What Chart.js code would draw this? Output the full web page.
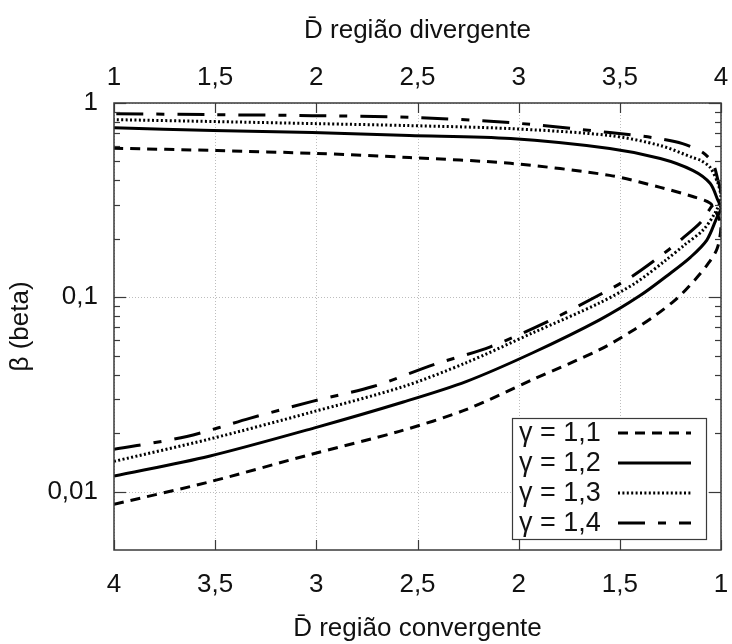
<!DOCTYPE html>
<html lang="pt">
<head>
<meta charset="utf-8">
<title>β em função de D̄</title>
<script src="https://cdn.jsdelivr.net/npm/chart.js@4.4.1/dist/chart.umd.min.js"></script>
<style>
  html, body { margin: 0; padding: 0; background: #fff; }
</style>
</head>
<body>
<canvas id="betaChart" width="732" height="644"></canvas>
<script>
const gammaLabels = ["γ = 1,1", "γ = 1,2", "γ = 1,3", "γ = 1,4"];

// each curve: lower branch from D = 4 up to the throat, then the upper branch back to D = 4
const dBar11 = [4.0, 3.53, 3.03, 2.59, 2.26, 1.93, 1.60, 1.44, 1.32, 1.24, 1.19, 1.12, 1.07, 1.02, 1.0, 1.015, 1.054, 1.14, 1.30, 1.55, 2.04, 2.54, 3.0, 3.49, 4.0];
const beta11 = [0.0086, 0.0112, 0.0155, 0.0204, 0.0264, 0.0377, 0.0537, 0.067, 0.0813, 0.0942, 0.105, 0.126, 0.146, 0.177, 0.232, 0.262, 0.305, 0.330, 0.368, 0.424, 0.489, 0.524, 0.550, 0.569, 0.585];

const dBar12 = [4.0, 3.53, 3.0, 2.57, 2.26, 1.93, 1.60, 1.40, 1.25, 1.15, 1.07, 1.02, 1.0, 1.015, 1.054, 1.14, 1.30, 1.55, 2.04, 2.54, 3.02, 3.51, 4.0];
const beta12 = [0.0120, 0.0152, 0.0214, 0.0289, 0.0368, 0.0518, 0.0765, 0.102, 0.133, 0.161, 0.197, 0.258, 0.287, 0.315, 0.386, 0.450, 0.518, 0.583, 0.656, 0.680, 0.704, 0.721, 0.745];

const dBar13 = [4.0, 3.53, 3.03, 2.57, 2.26, 1.93, 1.60, 1.42, 1.27, 1.18, 1.09, 1.03, 1.0, 1.015, 1.054, 1.10, 1.14, 1.30, 1.55, 2.04, 2.54, 3.0, 3.49, 4.0];
const beta13 = [0.0143, 0.0186, 0.0255, 0.0347, 0.0460, 0.0656, 0.0935, 0.119, 0.156, 0.186, 0.221, 0.271, 0.325, 0.386, 0.466, 0.506, 0.524, 0.604, 0.680, 0.738, 0.765, 0.783, 0.802, 0.821];

const dBar14 = [4.0, 3.64, 3.33, 3.02, 2.72, 2.42, 2.14, 1.86, 1.60, 1.44, 1.27, 1.19, 1.10, 1.05, 1.0, 1.015, 1.04, 1.09, 1.19, 1.34, 1.55, 2.04, 2.54, 3.02, 3.51, 4.0];
const beta14 = [0.0165, 0.0192, 0.0238, 0.0291, 0.0347, 0.0450, 0.0556, 0.0747, 0.103, 0.128, 0.172, 0.201, 0.243, 0.290, 0.343, 0.400, 0.489, 0.556, 0.618, 0.664, 0.704, 0.792, 0.844, 0.861, 0.871, 0.881];

const xTicks = [1, 1.5, 2, 2.5, 3, 3.5, 4];
const yTicks = [0.01, 0.1, 1];
const yTickText = ["0,01", "0,1", "1"];

const dashes = [[10, 7], [], [2, 2.4], [27, 13, 8, 13]];
const FONT = "'Liberation Sans', Arial, sans-serif";
const INK = "#111";
const FRAME = "#3a3a3a";

function toPoints(xs, ys) {
  return xs.map((x, i) => ({ x: x, y: ys[i] }));
}

function commaNum(v) {
  return String(v).replace(".", ",");
}

function line(ctx, x1, y1, x2, y2) {
  ctx.beginPath();
  ctx.moveTo(x1, y1);
  ctx.lineTo(x2, y2);
  ctx.stroke();
}

// dotted grid, inward tick marks, frame and the boxed legend
const frameAndLegend = {
  id: "frameAndLegend",
  beforeDatasetsDraw(chart) {
    const { ctx, chartArea: a, scales } = chart;
    ctx.save();
    ctx.strokeStyle = "#bdbdbd";
    ctx.lineWidth = 1;
    ctx.setLineDash([1, 2]);
    xTicks.forEach((v) => {
      const px = Math.round(scales.x.getPixelForValue(v)) + 0.5;
      line(ctx, px, a.top, px, a.bottom);
    });
    yTicks.forEach((v) => {
      const py = Math.round(scales.y.getPixelForValue(v)) + 0.5;
      line(ctx, a.left, py, a.right, py);
    });
    ctx.restore();
  },
  afterDatasetsDraw(chart) {
    const { ctx, chartArea: a, scales } = chart;
    ctx.save();
    ctx.strokeStyle = FRAME;
    ctx.lineWidth = 1.2;
    ctx.setLineDash([]);

    xTicks.forEach((v) => {
      const px = Math.round(scales.x.getPixelForValue(v)) + 0.5;
      line(ctx, px, a.bottom, px, a.bottom - 10);
      const pt = Math.round(scales.x2.getPixelForValue(v)) + 0.5;
      line(ctx, pt, a.top, pt, a.top + 10);
    });

    yTicks.forEach((decade) => {
      const py = Math.round(scales.y.getPixelForValue(decade)) + 0.5;
      line(ctx, a.left, py, a.left + 12, py);
      line(ctx, a.right, py, a.right - 12, py);
      if (decade >= 1) return;
      for (let k = 2; k <= 9; k++) {
        const pm = Math.round(scales.y.getPixelForValue(k * decade)) + 0.5;
        line(ctx, a.left, pm, a.left + 6, pm);
        line(ctx, a.right, pm, a.right - 6, pm);
      }
    });

    ctx.lineWidth = 1.5;
    ctx.strokeRect(a.left, a.top, a.right - a.left, a.bottom - a.top);

    // legend box in the lower right corner
    const bw = 194, bh = 121;
    const bx = a.right - 15 - bw;
    const by = a.bottom - 11 - bh;
    ctx.fillStyle = "#fff";
    ctx.fillRect(bx, by, bw, bh);
    ctx.lineWidth = 1.2;
    ctx.strokeRect(bx + 0.5, by + 0.5, bw, bh);

    ctx.font = "27px " + FONT;
    ctx.textBaseline = "middle";
    ctx.textAlign = "left";
    chart.data.datasets.forEach((ds, i) => {
      const cy = by + 15 + i * 30;
      ctx.fillStyle = INK;
      ctx.fillText(ds.label, bx + 7, cy + 1);
      ctx.strokeStyle = ds.borderColor;
      ctx.lineWidth = ds.borderWidth;
      ctx.setLineDash(ds.borderDash);
      line(ctx, bx + 106, cy, bx + 179, cy);
    });
    ctx.restore();
  },
};

function makeDataset(label, xs, ys, dash) {
  return {
    label: label,
    data: toPoints(xs, ys),
    showLine: true,
    borderColor: "#000",
    borderWidth: 3,
    borderDash: dash,
    pointRadius: 0,
    tension: 0.3,
    fill: false,
  };
}

function axisTitle(text, padding) {
  return {
    display: true,
    text: text,
    color: INK,
    font: { family: FONT, size: 26 },
    padding: padding,
  };
}

function tickFont() {
  return { family: FONT, size: 26 };
}

const ctx = document.getElementById("betaChart").getContext("2d");
new Chart(ctx, {
  type: "scatter",
  data: {
    datasets: [
      makeDataset(gammaLabels[0], dBar11, beta11, dashes[0]),
      makeDataset(gammaLabels[1], dBar12, beta12, dashes[1]),
      makeDataset(gammaLabels[2], dBar13, beta13, dashes[2]),
      makeDataset(gammaLabels[3], dBar14, beta14, dashes[3]),
    ],
  },
  options: {
    responsive: false,
    animation: false,
    devicePixelRatio: 1,
    layout: { padding: { left: 0, right: 11, top: 0, bottom: 0 } },
    plugins: { legend: { display: false }, tooltip: { enabled: false } },
    scales: {
      x: {
        type: "linear",
        position: "bottom",
        reverse: true,
        min: 1,
        max: 4,
        grid: { display: false, drawTicks: false },
        border: { display: false },
        ticks: {
          stepSize: 0.5,
          autoSkip: false,
          maxRotation: 0,
          padding: 19,
          color: INK,
          font: tickFont(),
          callback: (v) => commaNum(v),
        },
        title: axisTitle("D\u0304 região convergente", { top: 0, bottom: 0 }),
        afterFit: (s) => {
          s.height = 94;
          s.paddingLeft = 0;
          s.paddingRight = 0;
        },
      },
      x2: {
        type: "linear",
        position: "top",
        min: 1,
        max: 4,
        grid: { display: false, drawTicks: false },
        border: { display: false },
        ticks: {
          stepSize: 0.5,
          autoSkip: false,
          maxRotation: 0,
          padding: 10,
          color: INK,
          font: tickFont(),
          callback: (v) => commaNum(v),
        },
        title: axisTitle("D\u0304 região divergente", { top: 15, bottom: 0 }),
        afterFit: (s) => {
          s.height = 103;
          s.paddingLeft = 0;
          s.paddingRight = 0;
        },
      },
      y: {
        type: "logarithmic",
        position: "left",
        min: 0.005,
        max: 1,
        grid: { display: false, drawTicks: false },
        border: { display: false },
        ticks: {
          autoSkip: false,
          padding: 16,
          color: INK,
          font: tickFont(),
          callback: (v) => {
            const i = yTicks.findIndex((t) => Math.abs(t - v) < t * 1e-6);
            return i >= 0 ? yTickText[i] : "";
          },
        },
        title: axisTitle("β (beta)", { top: 5, bottom: 0 }),
        afterFit: (s) => {
          s.width = 114;
          s.paddingTop = 0;
          s.paddingBottom = 0;
        },
      },
    },
  },
  plugins: [frameAndLegend],
});
</script>
</body>
</html>
